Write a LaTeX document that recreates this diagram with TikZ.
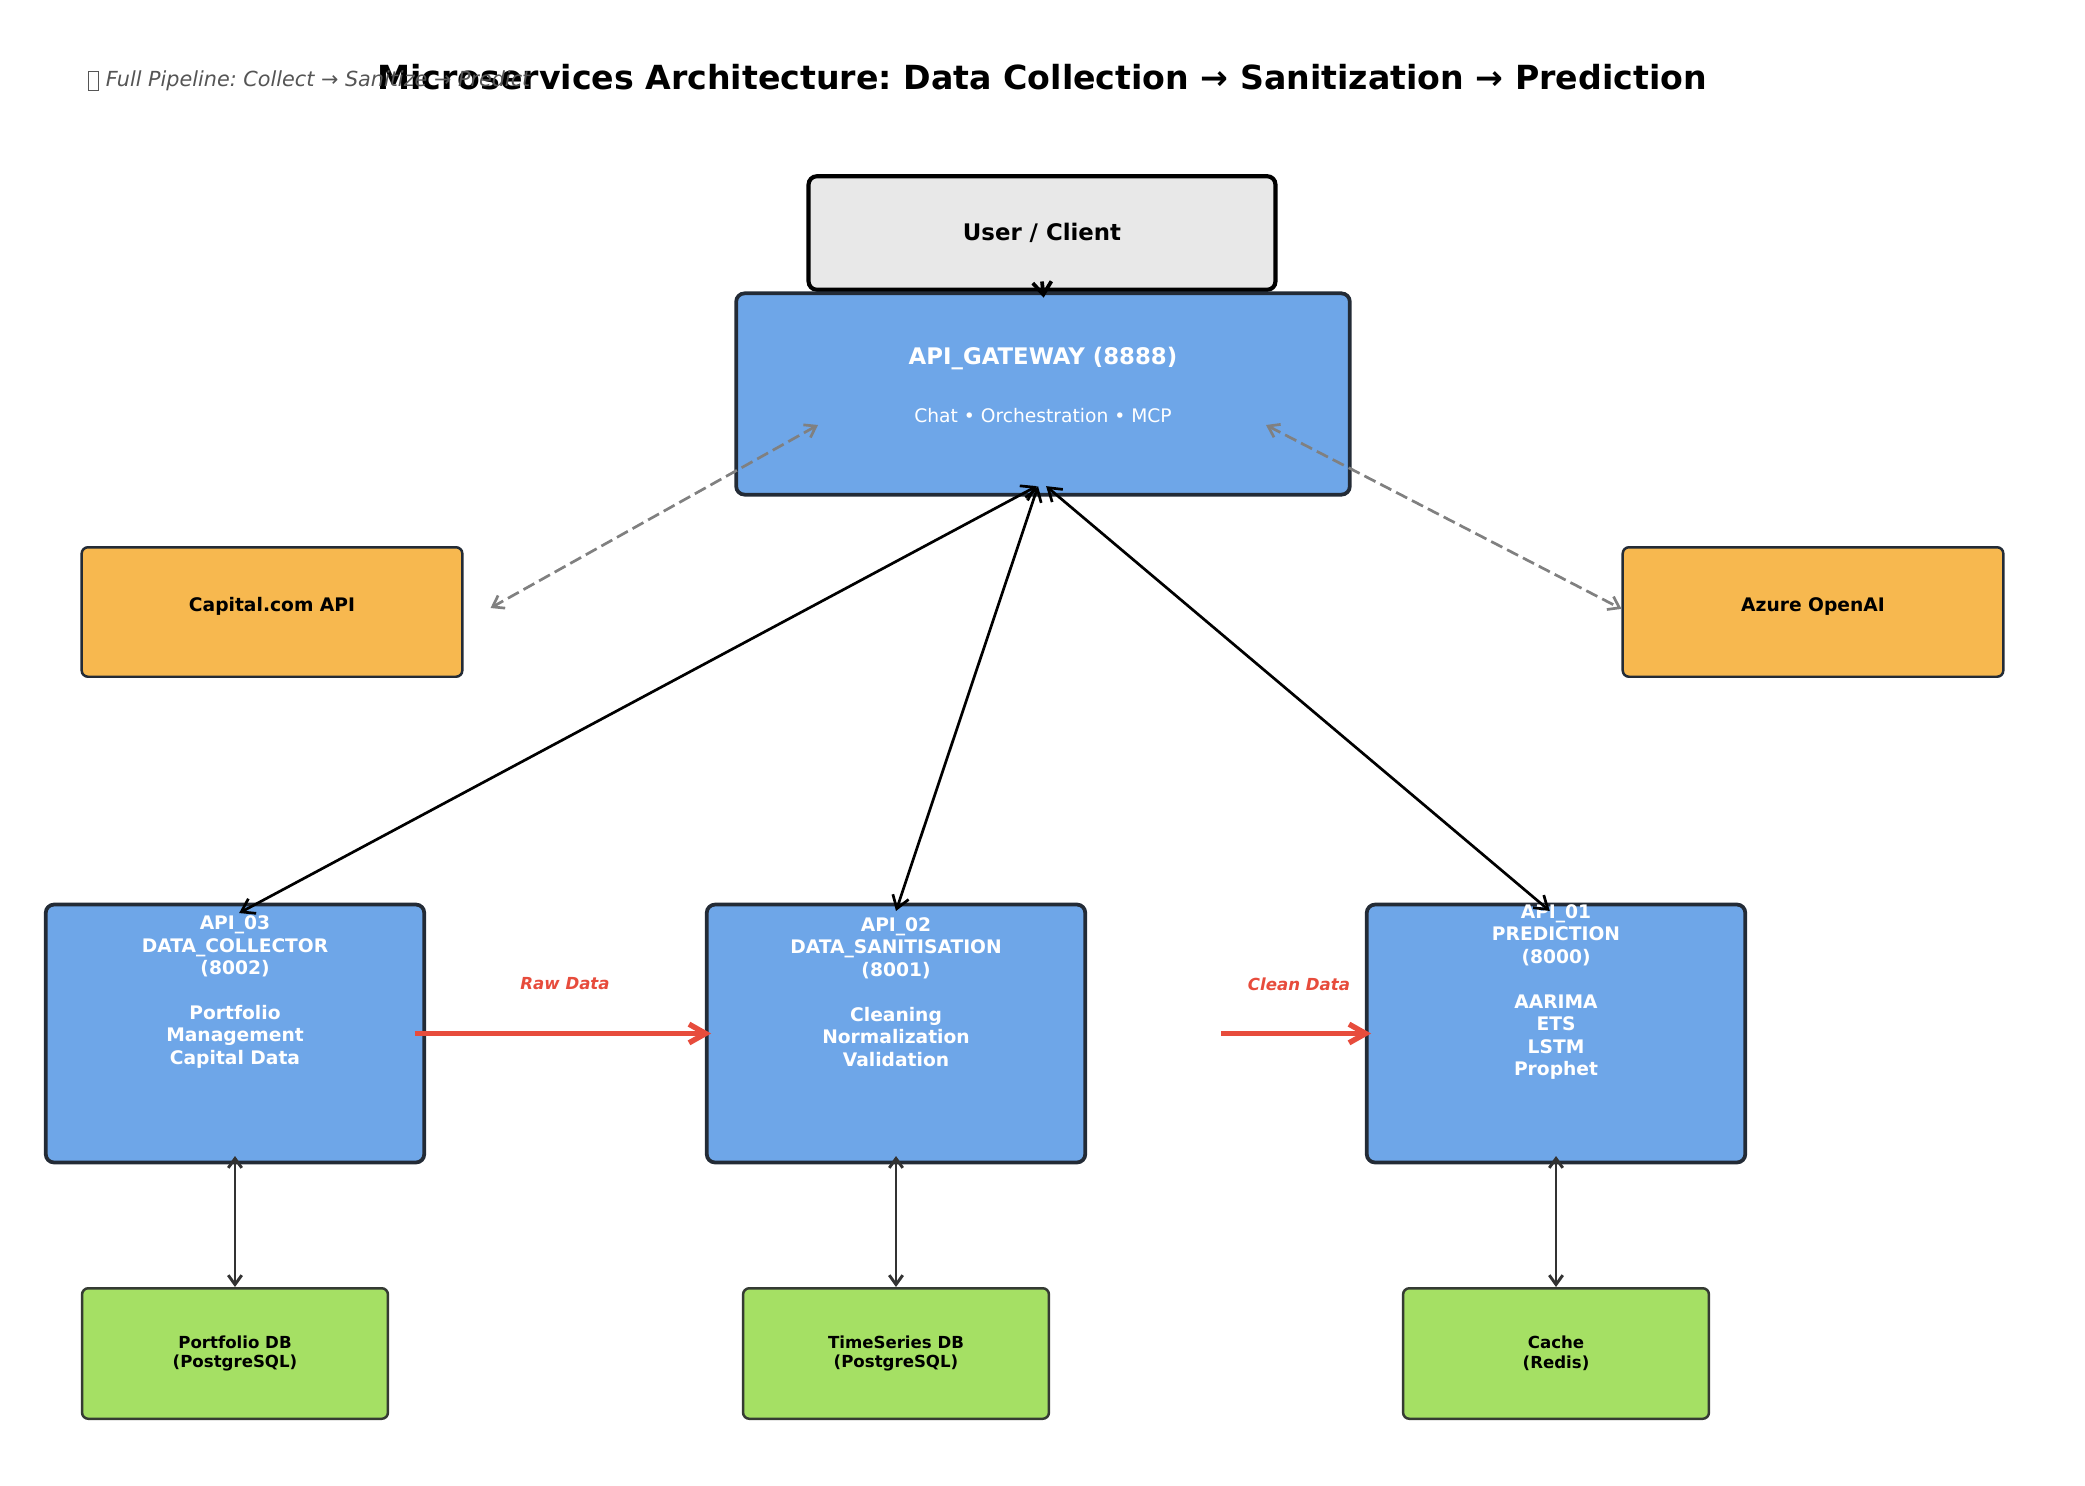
\documentclass[tikz,border=0pt]{standalone}
\usepackage{fontspec}
\setmainfont{DejaVu Sans}
\frenchspacing
\usetikzlibrary{arrows.meta}

\definecolor{svcblue}{HTML}{6EA6E8}
\definecolor{svcedge}{HTML}{232B36}
\definecolor{extorange}{HTML}{F7B84F}
\definecolor{dbgreen}{HTML}{A5E064}
\definecolor{dbedge}{HTML}{353B33}
\definecolor{userfill}{HTML}{E8E8E8}
\definecolor{flowred}{HTML}{E74C3C}
\definecolor{subgray}{HTML}{555555}

\begin{document}
\begin{tikzpicture}[x=0.0169333cm,y=-0.0169333cm,
  userbox/.style={draw=black,line width=2pt,rounded corners=4pt,fill=userfill,
    minimum width=225pt,minimum height=54.7pt,font=\bfseries\fontsize{11}{13}\selectfont},
  svcbox/.style={draw=svcedge,line width=1.8pt,rounded corners=4pt,fill=svcblue,
    minimum width=182.4pt,minimum height=124.3pt},
  svctext/.style={text=white,align=center,font=\bfseries\fontsize{9}{10.8}\selectfont},
  extbox/.style={draw=svcedge,line width=1.2pt,rounded corners=3pt,fill=extorange,
    minimum width=183.4pt,minimum height=62.4pt},
  exttext/.style={font=\bfseries\fontsize{9}{11}\selectfont},
  dbbox/.style={draw=dbedge,line width=1.2pt,rounded corners=3pt,fill=dbgreen,
    minimum width=147.4pt,minimum height=62.9pt,align=center,
    font=\bfseries\fontsize{8}{9.6}\selectfont},
  callarrow/.style={line width=1.3pt,{Straight Barb[length=6pt,width=8pt]}-{Straight Barb[length=6pt,width=8pt]}},
  extlink/.style={line width=1.3pt,gray,dash pattern=on 6pt off 2.6pt,
    {Straight Barb[length=5pt,width=7pt]}-{Straight Barb[length=5pt,width=7pt]}},
  storelink/.style={line width=1.4pt,black!80,{Straight Barb[length=4.5pt,width=6.5pt]}-{Straight Barb[length=4.5pt,width=6.5pt]}},
  flow/.style={line width=2.6pt,flowred,-{Straight Barb[length=8pt,width=9pt]}},
  flowlabel/.style={text=flowred,font=\bfseries\itshape\fontsize{8}{10}\selectfont}
]
\useasboundingbox (0,0) rectangle (2085,1485);

% title and subtitle
\node[font=\bfseries\fontsize{16}{19}\selectfont] (title) at (1042,77)
  {Microservices Architecture: Data Collection → Sanitization → Prediction};
\node[anchor=west,text=subgray,font=\itshape\fontsize{10}{12}\selectfont,inner sep=0pt] (subtitle) at (88,81)
  {{\fboxsep=0pt\fboxrule=0.5pt\raisebox{-1.5pt}{\fbox{\rule{0pt}{8.5pt}\hspace{4.2pt}}}} Full Pipeline: Collect → Sanitize → Predict};

% client and gateway
\node[userbox] (user) at (1042,233) {User / Client};
\node[svcbox,minimum width=295.7pt,minimum height=97pt] (gw) at (1043,394) {};
\node[text=white,font=\bfseries\fontsize{11}{13}\selectfont] (gwname) at (1043,359) {API\_GATEWAY (8888)};
\node[text=white,font=\fontsize{9}{11}\selectfont] (gwtasks) at (1043,416) {Chat • Orchestration • MCP};

% external services
\node[extbox,label={[exttext,yshift=2.5pt]center:Capital.com API}] (capital) at (272,612) {};
\node[extbox,label={[exttext,yshift=2.5pt]center:Azure OpenAI}] (azure) at (1813,612) {};

% microservices
\node[svcbox] (collector) at (235,1033.5) {};
\node[svcbox] (sanitiser) at (896,1033.5) {};
\node[svcbox] (predictor) at (1556,1033.5) {};
\node[svctext] (collectortxt) at (235,992)
  {API\_03\\DATA\_COLLECTOR\\(8002)\\[10.8pt]Portfolio\\Management\\Capital Data};
\node[svctext] (sanitisertxt) at (896,992)
  {API\_02\\DATA\_SANITISATION\\(8001)\\[10.8pt]Cleaning\\Normalization\\Validation};
\node[svctext] (predictortxt) at (1556,992)
  {API\_01\\PREDICTION\\(8000)\\[10.8pt]AARIMA\\ETS\\LSTM\\Prophet};

% storage
\node[dbbox] (portfoliodb) at (235,1353.5) {Portfolio DB\\(PostgreSQL)};
\node[dbbox] (timeseriesdb) at (896,1353.5) {TimeSeries DB\\(PostgreSQL)};
\node[dbbox] (cachedb) at (1556,1353.5) {Cache\\(Redis)};

% connectors
\draw[line width=1.8pt,-{Straight Barb[length=6pt,width=9pt]},shorten >=-3pt] ([yshift=5pt]user.south) -- (gw.north);

\draw[callarrow] ([xshift=-3pt,yshift=5pt]gw.south) -- ([xshift=2pt,yshift=-5pt]collector.north);
\draw[callarrow] ([xshift=-2.4pt,yshift=5pt]gw.south) -- ([yshift=-4pt]sanitiser.north);
\draw[callarrow] ([xshift=1.5pt,yshift=5pt]gw.south) -- ([xshift=-3pt,yshift=-4pt]predictor.north);

\coordinate (gwleft) at ([shift={(-225,31)}]gw.center);
\coordinate (gwright) at ([shift={(223,31)}]gw.center);
\coordinate (capitalend) at ([shift={(27,-4)}]capital.east);
\draw[extlink] (gwleft) -- (capitalend);
\draw[extlink] (gwright) -- ([yshift=1.5pt]azure.west);

\draw[flow,shorten <=-5.5pt,shorten >=-3pt] (collector.east) -- (sanitiser.west);
\node[flowlabel] (rawlabel) at (565,984) {Raw Data};
\coordinate (cleanstart) at (1221,1033.5);
\draw[flow,shorten >=-3pt] (cleanstart) -- (predictor.west);
\node[flowlabel] (cleanlabel) at (1299,984) {Clean Data};

\draw[storelink,shorten <=-4pt] (collector.south) -- (portfoliodb.north);
\draw[storelink,shorten <=-4pt] (sanitiser.south) -- (timeseriesdb.north);
\draw[storelink,shorten <=-4pt] (predictor.south) -- (cachedb.north);
\end{tikzpicture}
\end{document}
